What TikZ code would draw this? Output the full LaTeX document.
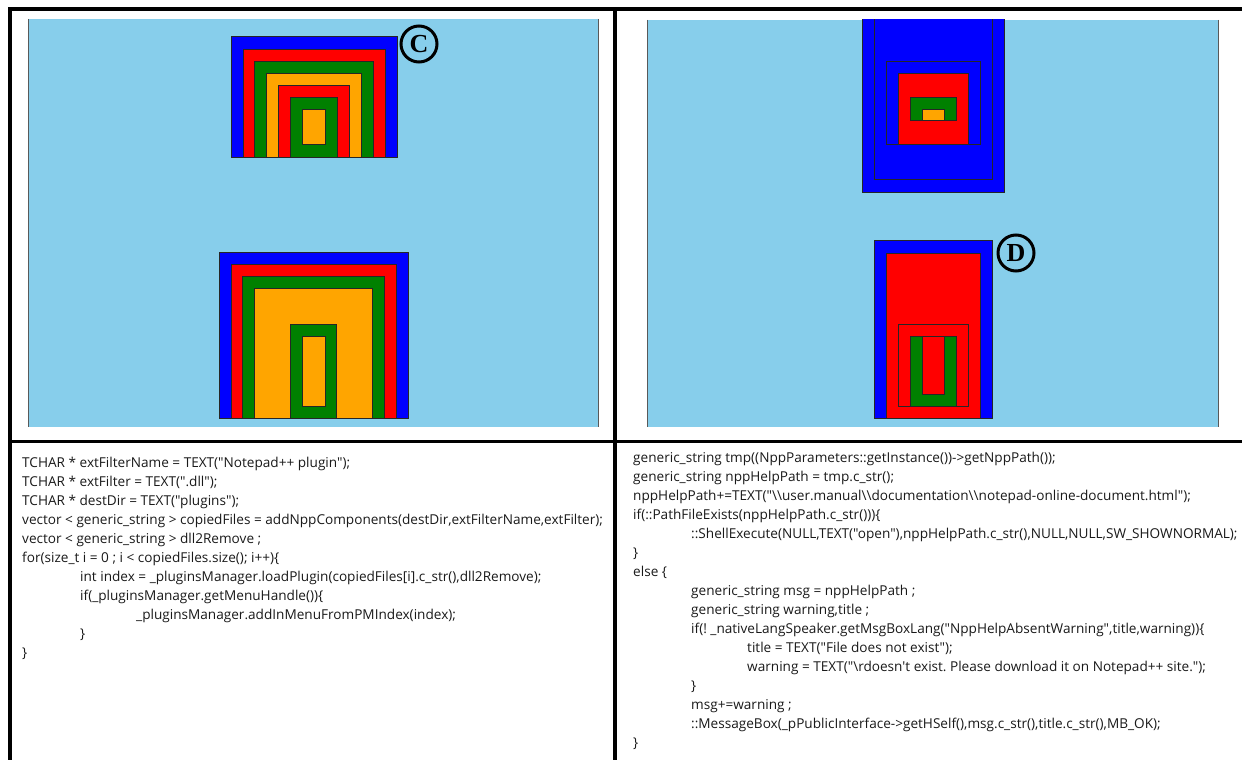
\documentclass[tikz,border=0pt]{standalone}
\usepackage{fontspec}
\setmainfont{Open Sans}
\newfontfamily\codefont{Open Sans}
\newfontfamily\markfont{Liberation Serif}
\definecolor{skyblue}{HTML}{87CEEB}
\definecolor{boxgreen}{HTML}{008000}
\definecolor{boxorange}{HTML}{FFA500}
\frenchspacing

\begin{document}
\begin{tikzpicture}[x=1pt, y=-1pt, frame line/.style={line width=3.5pt, black, line join=miter}, box/.style={draw=black!85, line width=1pt}, panel edge/.style={draw=black!65, line width=1pt}, code line/.style={anchor=base west, inner sep=0pt, text=black!90, font=\codefont\fontsize{13.6}{16}\selectfont}, mark node/.style={circle, draw, line width=3pt, minimum size=36pt, inner sep=0pt, font=\markfont\bfseries\fontsize{26}{26}\selectfont}]
\useasboundingbox (0,0) rectangle (1242,760);

\fill[skyblue] (28,19) rectangle (598.5,427);
\draw[panel edge] (28,19) -- (28,427) (598.5,19) -- (598.5,427);
\fill[skyblue] (647,20) rectangle (1218,427);
\draw[panel edge] (647,20) -- (647,427) (1218,20) -- (1218,427);

\filldraw[box, fill=blue] (231,37) rectangle (397,157);
\filldraw[box, fill=red] (243,50) rectangle (385,157);
\filldraw[box, fill=boxgreen] (254.5,62) rectangle (373,157);
\filldraw[box, fill=boxorange] (266.5,73.5) rectangle (361,157);
\filldraw[box, fill=red] (278.5,85.5) rectangle (349,157);
\filldraw[box, fill=boxgreen] (290,97.5) rectangle (337,157);
\filldraw[box, fill=boxorange] (302,109.5) rectangle (325,144);
\node [mark node] (markC) at (419,44) {C};

\filldraw[box, fill=blue] (219,252.5) rectangle (408,418.5);
\filldraw[box, fill=red] (231,264.5) rectangle (396.5,418.5);
\filldraw[box, fill=boxgreen] (242.5,276) rectangle (384.5,418.5);
\filldraw[box, fill=boxorange] (254.5,288.5) rectangle (372.5,418.5);
\filldraw[box, fill=boxgreen] (290.5,324) rectangle (336.5,418.5);
\filldraw[box, fill=boxorange] (302,336) rectangle (325,406);

\begin{scope}
\clip (647,20) rectangle (1218,427);
\filldraw[box, fill=blue] (862,0) rectangle (1004,192);
\filldraw[box, fill=blue] (874,0) rectangle (992,179);
\filldraw[box, fill=blue] (886,62) rectangle (980,144);
\filldraw[box, fill=red] (898,74) rectangle (968,144);
\filldraw[box, fill=boxgreen] (910,97) rectangle (956,120.5);
\filldraw[box, fill=boxorange] (922,109.5) rectangle (944,120.5);
\end{scope}

\filldraw[box, fill=blue] (874,240.5) rectangle (992,418.5);
\filldraw[box, fill=red] (886,253) rectangle (980,418.5);
\filldraw[box, fill=red] (898,324) rectangle (968,406);
\filldraw[box, fill=boxgreen] (910,336) rectangle (956,406);
\filldraw[box, fill=red] (922,336) rectangle (944,394.5);
\node [mark node] (markD) at (1016,253) {D};

\draw[frame line] (10,760) -- (10,9) -- (1242,9);
\draw[frame line] (615,9) -- (615,760);
\draw[frame line] (10,441.5) -- (1242,441.5);

\node [code line] (left1) at (22,467.5) {TCHAR * extFilterName = TEXT("Notepad++ plugin");};
\node [code line] (left2) at (22,486.5) {TCHAR * extFilter = TEXT(".dll");};
\node [code line] (left3) at (22,505.5) {TCHAR * destDir = TEXT("plugins");};
\node [code line] (left4) at (22,524.5) {vector < generic\_string > copiedFiles = addNppComponents(destDir,extFilterName,extFilter);};
\node [code line] (left5) at (22,543.5) {vector < generic\_string > dll2Remove ;};
\node [code line] (left6) at (22,562.5) {for(size\_t i = 0 ; i < copiedFiles.size(); i++)\{};
\node [code line] (left7) at (80,581.5) {int index = \_pluginsManager.loadPlugin(copiedFiles[i].c\_str(),dll2Remove);};
\node [code line] (left8) at (80,600.5) {if(\_pluginsManager.getMenuHandle())\{};
\node [code line] (left9) at (136,619.5) {\_pluginsManager.addInMenuFromPMIndex(index);};
\node [code line] (left10) at (80,638.5) {\}};
\node [code line] (left11) at (22,657.5) {\}};

\node [code line] (right1) at (633,462.5) {generic\_string tmp((NppParameters::getInstance())->getNppPath());};
\node [code line] (right2) at (633,481.5) {generic\_string nppHelpPath = tmp.c\_str();};
\node [code line] (right3) at (633,500.5) {nppHelpPath+=TEXT("\textbackslash\textbackslash{}user.manual\textbackslash\textbackslash{}documentation\textbackslash\textbackslash{}notepad-online-document.html");};
\node [code line] (right4) at (633,519.5) {if(::PathFileExists(nppHelpPath.c\_str()))\{};
\node [code line] (right5) at (691,538.5) {::ShellExecute(NULL,TEXT("open"),nppHelpPath.c\_str(),NULL,NULL,SW\_SHOWNORMAL);};
\node [code line] (right6) at (633,557.5) {\}};
\node [code line] (right7) at (633,576.5) {else \{};
\node [code line] (right8) at (691,595.5) {generic\_string msg = nppHelpPath ;};
\node [code line] (right9) at (691,614.5) {generic\_string warning,title ;};
\node [code line] (right10) at (691,633.5) {if(! \_nativeLangSpeaker.getMsgBoxLang("NppHelpAbsentWarning",title,warning))\{};
\node [code line] (right11) at (747,652.5) {title = TEXT("File does not exist");};
\node [code line] (right12) at (747,671.5) {warning = TEXT("\textbackslash{}rdoesn't exist. Please download it on Notepad++ site.");};
\node [code line] (right13) at (691,690.5) {\}};
\node [code line] (right14) at (691,709.5) {msg+=warning ;};
\node [code line] (right15) at (691,728.5) {::MessageBox(\_pPublicInterface->getHSelf(),msg.c\_str(),title.c\_str(),MB\_OK);};
\node [code line] (right16) at (633,747.5) {\}};
\end{tikzpicture}
\end{document}
